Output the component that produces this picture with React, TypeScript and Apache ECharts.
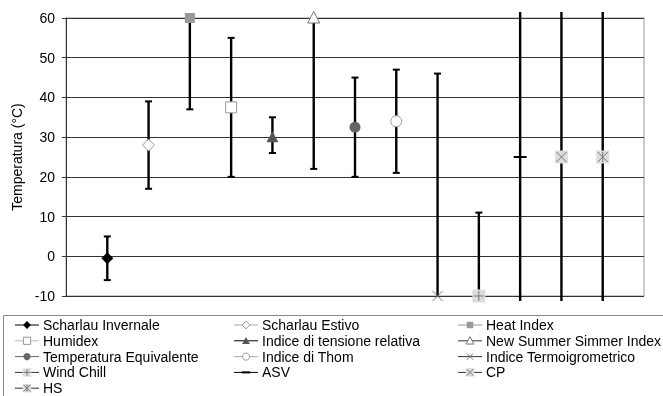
import React, { useEffect, useRef } from "react";
import * as echarts from "echarts";

// ---- Data ----
const indici = [
  "Scharlau Invernale",
  "Scharlau Estivo",
  "Heat Index",
  "Humidex",
  "Indice di tensione relativa",
  "New Summer Simmer Index",
  "Temperatura Equivalente",
  "Indice di Thom",
  "Indice Termoigrometrico",
  "Wind Chill",
  "ASV",
  "CP",
  "HS",
];
const valori = [-0.5, 28, 60, 37.5, 30, 60, 32.5, 34, -10, -10, 25, 25, 25];
const erroreMin = [-6, 17, 37, 20, 26, 22, 20, 21, -10, -10, -40, -40, -40];
const erroreMax = [5, 39, 60, 55, 35, 60, 45, 47, 46, 11, 90, 90, 90];
const yTicks = { min: -10, max: 60, interval: 10 };

// ---- Styles ----
const simboli = [
  "diamondFilled",
  "diamondHollow",
  "squareFilled",
  "squareHollow",
  "triangleFilled",
  "triangleHollow",
  "circleFilled",
  "circleHollow",
  "cross",
  "plusBox",
  "dash",
  "xBox",
  "starBox",
];
const legendLine = [
  "#000", "#aaa", "#999", "#bbb", "#000", "#333", "#666", "#aaa", "#333", "#333", "#000", "#333", "#333",
];
const FONT = "'Liberation Sans', Arial, sans-serif";

function makeMarker(kind: string, cx: number, cy: number, s: number): any[] {
  const GRAY = "#999";
  const poly = (pts: number[][], fill: string, stroke?: string) => ({
    type: "polygon",
    shape: { points: pts },
    style: { fill, stroke: stroke || null, lineWidth: 1 },
  });
  const ln = (x1: number, y1: number, x2: number, y2: number, stroke: string, w: number) => ({
    type: "line",
    shape: { x1, y1, x2, y2 },
    style: { stroke, lineWidth: w },
  });
  const box = (h: number, fill: string, stroke?: string) => ({
    type: "rect",
    shape: { x: cx - h / 2, y: cy - h / 2, width: h, height: h },
    style: { fill, stroke: stroke || null, lineWidth: 1 },
  });
  const d = 6 * s;
  switch (kind) {
    case "diamondFilled":
      return [poly([[cx, cy - d], [cx + d, cy], [cx, cy + d], [cx - d, cy]], "#000")];
    case "diamondHollow":
      return [poly([[cx, cy - d], [cx + d, cy], [cx, cy + d], [cx - d, cy]], "#fff", GRAY)];
    case "squareFilled":
      return [box(10 * s, "#999")];
    case "squareHollow":
      return [box(11 * s, "#fff", GRAY)];
    case "triangleFilled":
      return [poly([[cx, cy - 6 * s], [cx + 6 * s, cy + 5 * s], [cx - 6 * s, cy + 5 * s]], "#555")];
    case "triangleHollow":
      return [poly([[cx, cy - 6.5 * s], [cx + 6 * s, cy + 5 * s], [cx - 6 * s, cy + 5 * s]], "#fff", "#777")];
    case "circleFilled":
      return [{ type: "circle", shape: { cx, cy, r: 5.5 * s }, style: { fill: "#666" } }];
    case "circleHollow":
      return [{ type: "circle", shape: { cx, cy, r: 5.5 * s }, style: { fill: "#fff", stroke: GRAY, lineWidth: 1 } }];
    case "cross": {
      const k = 5 * s;
      return [ln(cx - k, cy - k, cx + k, cy + k, "#777", 1), ln(cx - k, cy + k, cx + k, cy - k, "#777", 1)];
    }
    case "plusBox": {
      const k = 5 * s;
      return [box(13 * s, "#ddd"), ln(cx - k, cy, cx + k, cy, "#777", 1), ln(cx, cy - k, cx, cy + k, "#777", 1)];
    }
    case "dash":
      return [ln(cx - 6.5 * s, cy, cx + 6.5 * s, cy, "#000", 2)];
    case "xBox": {
      const k = 5 * s;
      return [box(13 * s, "#ddd"), ln(cx - k, cy - k, cx + k, cy + k, "#777", 1), ln(cx - k, cy + k, cx + k, cy - k, "#777", 1)];
    }
    case "starBox": {
      const k = 5 * s;
      return [
        box(13 * s, "#ddd"),
        ln(cx - k, cy - k, cx + k, cy + k, "#777", 1),
        ln(cx - k, cy + k, cx + k, cy - k, "#777", 1),
        ln(cx, cy - k, cx, cy + k, "#777", 1),
      ];
    }
  }
  return [];
}

export default function App() {
  const ref = useRef<HTMLDivElement>(null);
  useEffect(() => {
    if (!ref.current) return;
    const chart = echarts.init(ref.current, null, { renderer: "svg" });
    const data = indici.map((_, i) => [i + 1, valori[i], erroreMin[i], erroreMax[i]]);

    const legendEls: any[] = [];
    const colX = [15, 234, 458];
    indici.forEach((name, i) => {
      const col = i % 3;
      const row = Math.floor(i / 3);
      const x0 = colX[col];
      const y = 325 + row * 15.8;
      legendEls.push({
        type: "line",
        shape: { x1: x0, y1: y, x2: x0 + 24, y2: y },
        style: { stroke: legendLine[i], lineWidth: 1 },
      });
      makeMarker(simboli[i], x0 + 12, y, 0.65).forEach((e) => legendEls.push(e));
      legendEls.push({
        type: "text",
        x: x0 + 28,
        y,
        style: { text: name, fill: "#000", font: `14px ${FONT}`, textVerticalAlign: "middle", textAlign: "left" },
      });
    });

    chart.setOption({
      animation: false,
      textStyle: { fontFamily: FONT },
      grid: {
        left: 66,
        right: 19,
        top: 18,
        bottom: 100,
        show: true,
        borderColor: "#999",
        borderWidth: 1,
      },
      xAxis: {
        type: "value",
        min: 0,
        max: 14,
        show: false,
      },
      yAxis: {
        type: "value",
        min: yTicks.min,
        max: yTicks.max,
        interval: yTicks.interval,
        name: "Temperatura (°C)",
        nameLocation: "middle",
        nameGap: 41,
        nameTextStyle: { fontSize: 14, color: "#000", fontFamily: FONT },
        axisLine: { show: true, lineStyle: { color: "#333", width: 1 } },
        axisTick: { show: true, length: 4, lineStyle: { color: "#333" } },
        axisLabel: { fontSize: 14, color: "#000", margin: 11, fontFamily: FONT },
        splitLine: { show: true, lineStyle: { color: "#333", width: 1 } },
      },
      graphic: [
        {
          type: "rect",
          shape: { x: 3.5, y: 315.5, width: 700, height: 120 },
          style: { fill: "none", stroke: "#888", lineWidth: 1 },
        },
        ...legendEls,
      ],
      series: [
        {
          type: "custom",
          name: "errori",
          clip: false,
          data,
          renderItem: (params: any, api: any) => {
            const x = api.value(0);
            const v = api.value(1);
            const lo = api.value(2);
            const hi = api.value(3);
            const cs = params.coordSys;
            const top = cs.y - 6;
            const bottom = cs.y + cs.height + 5;
            const pHi = api.coord([x, hi]);
            const pLo = api.coord([x, lo]);
            const yHi = Math.max(pHi[1], top);
            const yLo = Math.min(pLo[1], bottom);
            const children: any[] = [
              { type: "line", shape: { x1: pHi[0], y1: yHi, x2: pHi[0], y2: yLo }, style: { stroke: "#000", lineWidth: 2.4 } },
            ];
            if (hi <= yTicks.max && hi !== v) {
              children.push({ type: "line", shape: { x1: pHi[0] - 3.5, y1: pHi[1], x2: pHi[0] + 3.5, y2: pHi[1] }, style: { stroke: "#000", lineWidth: 2 } });
            }
            if (lo >= yTicks.min && lo !== v) {
              children.push({ type: "line", shape: { x1: pLo[0] - 3.5, y1: pLo[1], x2: pLo[0] + 3.5, y2: pLo[1] }, style: { stroke: "#000", lineWidth: 2 } });
            }
            return { type: "group", children };
          },
          z: 2,
        },
        {
          type: "custom",
          name: "indici",
          clip: false,
          data,
          renderItem: (params: any, api: any) => {
            const p = api.coord([api.value(0), api.value(1)]);
            return { type: "group", children: makeMarker(simboli[params.dataIndex], p[0], p[1], 1) };
          },
          z: 3,
        },
      ],
    });
    return () => chart.dispose();
  }, []);
  return <div ref={ref} style={{ position: "fixed", left: 0, top: 0, width: 663, height: 396 }} />;
}
